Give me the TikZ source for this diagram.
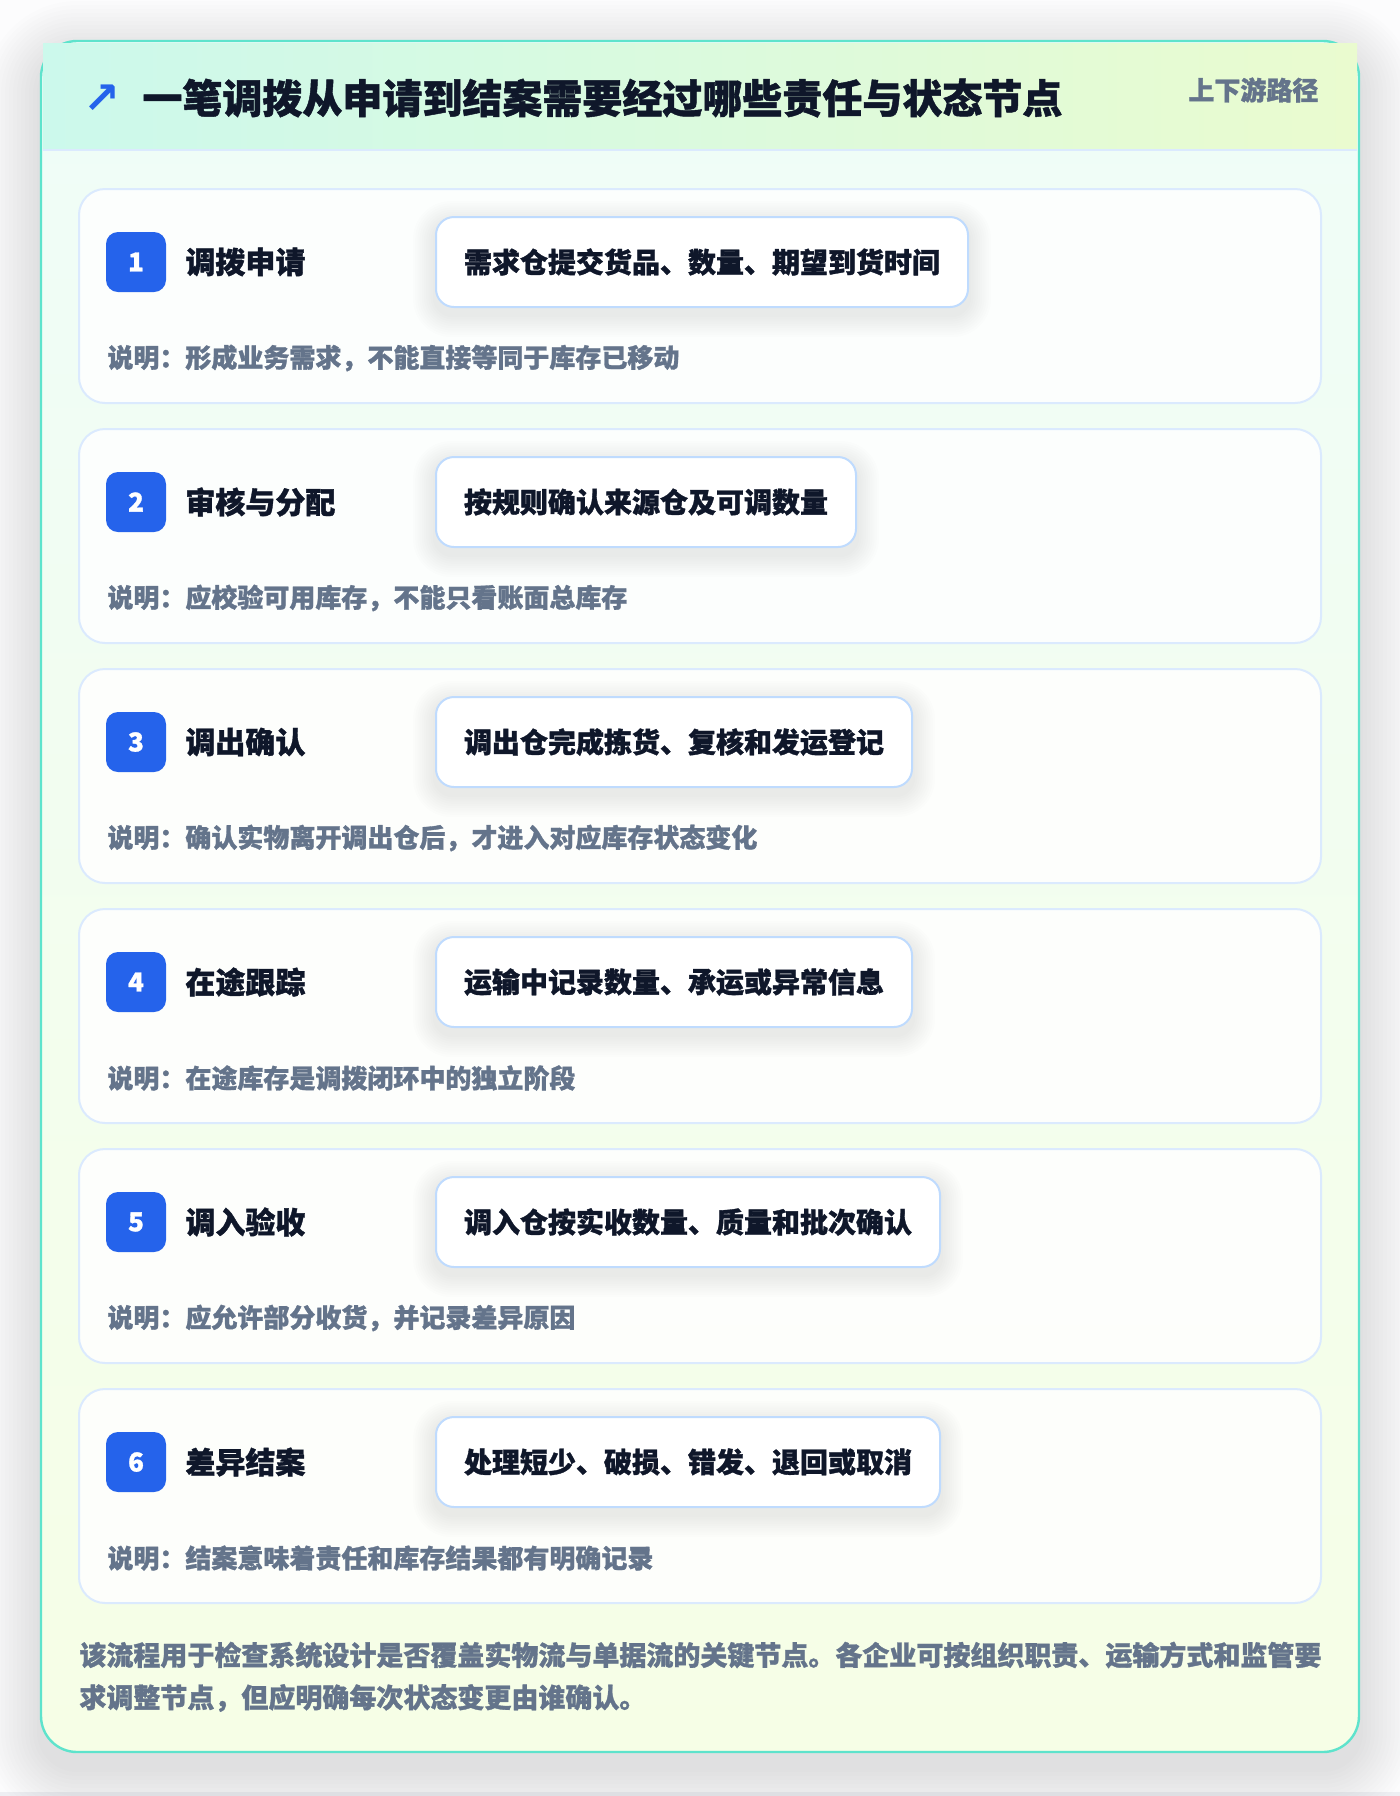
\documentclass[tikz,border=0pt]{standalone}
\usepackage{fontspec}
\setmainfont{Noto Sans CJK SC}[BoldFeatures={FakeBold=1.2}]
\newfontfamily\djv{DejaVu Sans}
\definecolor{ttl}{HTML}{0F172A}
\definecolor{gry}{HTML}{64748B}
\definecolor{blu}{HTML}{2563EB}
\definecolor{tealb}{HTML}{5EE3CC}
\definecolor{hdL}{HTML}{CCF9EC}
\definecolor{hdR}{HTML}{EAFBCF}
\definecolor{bdT}{HTML}{EFFDF8}
\definecolor{bdB}{HTML}{F6FEE6}
\definecolor{cardln}{HTML}{DBEAFE}
\definecolor{boxln}{HTML}{BFDBFE}
\definecolor{pagebg}{HTML}{FCFCFD}
\definecolor{pageedge}{HTML}{EEEFF3}
\pgfdeclarelayer{back}
\pgfdeclarelayer{mid}
\pgfsetlayers{back,mid,main}
\tikzset{
  badge/.style={fill=blu, text=white, rounded corners=6pt, minimum size=30pt, inner sep=0pt,
    font=\fontsize{13}{15}\selectfont\bfseries},
  stitle/.style={anchor=west, inner sep=0pt, text=ttl, font=\fontsize{15}{18}\selectfont\bfseries},
  sbox/.style={anchor=west, draw=boxln, line width=1pt, fill=white, rounded corners=9pt,
    minimum height=45pt, inner xsep=14pt, inner ysep=0pt, text=ttl,
    font=\fontsize{14}{17}\selectfont\bfseries},
  sdesc/.style={anchor=west, inner sep=0pt, text=gry, font=\fontsize{13}{16}\selectfont\bfseries},
  foot/.style={anchor=west, inner sep=0pt, text=gry, font=\fontsize{13.5}{16}\selectfont\bfseries},
  stepcard/.style={rounded corners=13pt},
}
\begin{document}
\begin{tikzpicture}[x=0.5pt,y=-0.5pt]
\useasboundingbox (0,0) rectangle (1400,1796);
\begin{pgfonlayer}{back}
\fill[pagebg] (0,0) rectangle (1400,1796);
\fill[pageedge] (0,1792) rectangle (1400,1796);
% soft shadow of the main card
\foreach \k in {1,...,14}{
  \fill[black, opacity=0.007, rounded corners={18pt+\k*2pt}]
    ({41-\k*4},{41-\k*4+16}) rectangle ({1359+\k*4},{1752+\k*4+16});
}
% main card
\shade[top color=bdT, bottom color=bdB, rounded corners=18pt] (41,41) rectangle (1359,1752);
\draw[tealb, line width=1.2pt, rounded corners=18pt] (41,41) rectangle (1359,1752);
% header
\shade[left color=hdL, right color=hdR] (43,43) rectangle (1357,150);
\draw[cardln, line width=1pt] (43,150) -- (1357,150);
% step cards
\foreach \i in {1,...,6}{
  \pgfmathsetmacro\tp{189+240*(\i-1)}
  \fill[white, fill opacity=0.85, stepcard] (79,\tp) rectangle (1321,{\tp+214});
  \draw[cardln, line width=1pt, stepcard] (79,\tp) rectangle (1321,{\tp+214});
}
\end{pgfonlayer}
\node[text=blu, inner sep=0pt, font=\djv\bfseries\fontsize{22}{22}\selectfont] (arr) at (102,99) {↗};
\node[anchor=west, inner sep=0pt, text=ttl, font=\fontsize{20}{24}\selectfont\bfseries] (title) at (142,98) {一笔调拨从申请到结案需要经过哪些责任与状态节点};
\node[anchor=west, inner sep=0pt, text=gry, font=\fontsize{13}{16}\selectfont\bfseries] (tag) at (1188,90) {上下游路径};
% steps
\foreach \i/\t/\b/\d in {
 1/调拨申请/需求仓提交货品、数量、期望到货时间/说明：形成业务需求，不能直接等同于库存已移动,
 2/审核与分配/按规则确认来源仓及可调数量/说明：应校验可用库存，不能只看账面总库存,
 3/调出确认/调出仓完成拣货、复核和发运登记/说明：确认实物离开调出仓后，才进入对应库存状态变化,
 4/在途跟踪/运输中记录数量、承运或异常信息/说明：在途库存是调拨闭环中的独立阶段,
 5/调入验收/调入仓按实收数量、质量和批次确认/说明：应允许部分收货，并记录差异原因,
 6/差异结案/处理短少、破损、错发、退回或取消/说明：结案意味着责任和库存结果都有明确记录}{
  \pgfmathsetmacro\tp{189+240*(\i-1)}
  \node[badge] (b\i) at (136,{\tp+73}) {\i};
  \node[stitle] (t\i) at (185,{\tp+73}) {\t};
  \node[sbox] (x\i) at (435,{\tp+73}) {\b};
  \node[sdesc] (d\i) at (107,{\tp+169}) {\d};
  \begin{pgfonlayer}{mid}
  \foreach \k in {1,...,10}{
    \fill[black, opacity=0.008, rounded corners={9pt+\k*1pt}]
      ([shift={({-\k*2.2},{-\k*2.2+7})}]x\i.north west) rectangle ([shift={({\k*2.2},{\k*2.2+7})}]x\i.south east);
  }
  \end{pgfonlayer}
}
% footer
\node[foot] (f1) at (79,1655) {该流程用于检查系统设计是否覆盖实物流与单据流的关键节点。各企业可按组织职责、运输方式和监管要};
\node[foot] (f2) at (79,1698) {求调整节点，但应明确每次状态变更由谁确认。};
\end{tikzpicture}
\end{document}
